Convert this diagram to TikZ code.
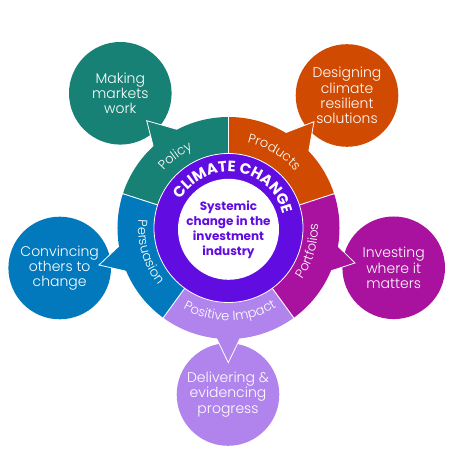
\documentclass[tikz,border=0pt]{standalone}
\usepackage{fontspec}
\setmainfont{Poppins}
\IfFontExistsTF{Poppins Light}{\newfontfamily\lightfont{Poppins Light}}{\newfontfamily\lightfont{Poppins}}
\usetikzlibrary{decorations.text,calc}
\definecolor{cteal}{RGB}{23,129,117}
\definecolor{corange}{RGB}{208,74,2}
\definecolor{cmagenta}{RGB}{168,18,158}
\definecolor{cblue}{RGB}{3,121,189}
\definecolor{clilac}{RGB}{176,132,236}
\definecolor{cpurple}{RGB}{97,12,224}
\tikzset{
  bubble/.style={circle, fill=#1, minimum size=102.6pt, inner sep=0pt, text=white,
    align=center, font=\lightfont\fontsize{14}{15.2}\selectfont},
  tail/.style={fill=#1, draw=white, line width=0.8pt, line join=miter},
  sep/.style={draw=white, line width=0.9pt},
  seglabel/.style={decorate, decoration={text along path, text align=center, text color=white,
    text={|\lightfont\fontsize{13}{13}\selectfont|#1}}},
}
\newcommand{\tailshape}[4]{% color, tip, a1, a2
  \path[tail=#1] (#2) -- ($(#2)!1.6!(#3)$) -- ($(#2)!1.6!(#4)$) -- cycle;}
\begin{document}
\begin{tikzpicture}
\useasboundingbox (0,0) rectangle (467pt,460pt);
\begin{scope}[x=1pt,y=1pt]
\coordinate (C) at (228.5,232);
% outer bubbles
\node[bubble=cteal]    (mk) at (120.3,366.7) {Making\\markets\\work};
\node[bubble=corange]  (dg) at (347,364.5)   {Designing\\climate\\resilient\\solutions};
\node[bubble=cmagenta] (iv) at (393.7,192.2) {Investing\\where it\\matters};
\node[bubble=cblue]    (cv) at (59.7,192)    {Convincing\\others to\\change};
\node[bubble=clilac]   (dl) at (228,65.5)    {\raisebox{-3pt}{\parbox{90pt}{\centering Delivering \&\\evidencing\\progress}}};
% tails
\coordinate (t1) at (146.7,339.3); \coordinate (t1a) at (176.7,330.7); \coordinate (t1b) at (152.3,317.3);
\coordinate (t2) at (314,338.3);   \coordinate (t2a) at (285.7,327.3); \coordinate (t2b) at (309.3,311.7);
\coordinate (t3) at (355,197);     \coordinate (t3a) at (336.7,215);   \coordinate (t3b) at (328.3,188.3);
\coordinate (t4) at (99,195);      \coordinate (t4a) at (118.3,213.3); \coordinate (t4b) at (128.3,188.3);
\coordinate (t5) at (228.3,97.3);  \coordinate (t5a) at (215,125);     \coordinate (t5b) at (241.7,125);
\tailshape{cteal}{t1}{t1a}{t1b}
\tailshape{corange}{t2}{t2a}{t2b}
\tailshape{cmagenta}{t3}{t3a}{t3b}
\tailshape{cblue}{t4}{t4a}{t4b}
\tailshape{clilac}{t5}{t5a}{t5b}
\begin{scope}[shift={(C)}]
% segments
\fill[cteal]    (90:74.5)  arc[start angle=90,  end angle=162, radius=74.5] -- (162:111) arc[start angle=162, end angle=90,  radius=111] -- cycle;
\fill[corange]  (18:74.5)  arc[start angle=18,  end angle=90,  radius=74.5] -- (90:111)  arc[start angle=90,  end angle=18,  radius=111] -- cycle;
\fill[cmagenta] (-54:74.5) arc[start angle=-54, end angle=18,  radius=74.5] -- (18:111)  arc[start angle=18,  end angle=-54, radius=111] -- cycle;
\fill[clilac]   (234:74.5) arc[start angle=234, end angle=306, radius=74.5] -- (306:111) arc[start angle=306, end angle=234, radius=111] -- cycle;
\fill[cblue]    (162:74.5) arc[start angle=162, end angle=234, radius=74.5] -- (234:111) arc[start angle=234, end angle=162, radius=111] -- cycle;
\foreach \a in {90,162,234,306,18} \draw[sep] (\a:74) -- (\a:112);
% ring
\node[circle, fill=cpurple, draw=white, line width=0.8pt, minimum size=149pt, inner sep=0pt] (ring) at (0,0) {};
\node[circle, fill=white, minimum size=101pt, inner sep=0pt] (core) at (0,-1.3) {};
\node[text=cpurple, align=center, font=\bfseries\fontsize{12}{15}\selectfont] (coretext) at (0,-1.3)
  {Systemic\\change in the\\investment\\industry};
% ring label
\path[decorate, decoration={text along path, text align=center, text color=white,
  text={|\bfseries\fontsize{15}{15}\selectfont|CLIMATE CHANGE}}]
  (171.5:56) arc[start angle=171.5, end angle=-8.5, radius=56];
% segment labels
\path[seglabel=Policy]     (175:86.5) arc[start angle=175, end angle=78,  radius=86.5];
\path[seglabel=Products]   (105:87.5) arc[start angle=105, end angle=13,  radius=87.5];
\path[seglabel=Portfolios] (-65:89.5) arc[start angle=-65, end angle=33,  radius=89.5];
\path[seglabel=Persuasion] (147:90.5) arc[start angle=147, end angle=247, radius=90.5];
\path[seglabel={Positive Impact}] (205:92.5) arc[start angle=205, end angle=337, radius=92.5];
\end{scope}
\end{scope}
\end{tikzpicture}
\end{document}
